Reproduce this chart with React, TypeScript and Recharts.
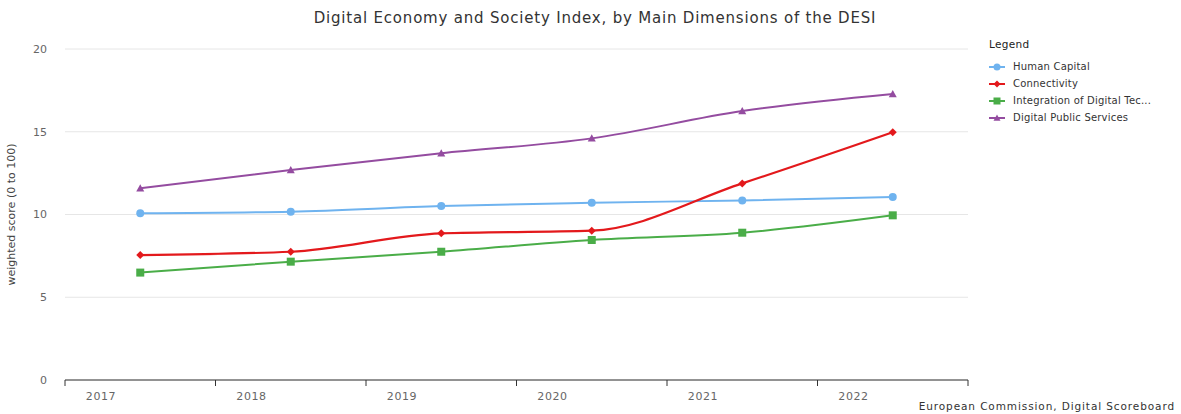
import React from "react";
import {
  LineChart,
  Line,
  XAxis,
  YAxis,
  CartesianGrid,
  Legend,
  Label,
} from "recharts";

const years = ["2017", "2018", "2019", "2020", "2021", "2022"];
const humanCapital = [10.07, 10.17, 10.51, 10.71, 10.85, 11.06];
const connectivity = [7.55, 7.75, 8.86, 9.02, 11.88, 14.97];
const integration = [6.49, 7.15, 7.75, 8.46, 8.9, 9.95];
const publicServices = [11.58, 12.69, 13.7, 14.6, 16.25, 17.28];
const yTicks = [0, 5, 10, 15, 20];

const FONT = "'DejaVu Sans', sans-serif";

type Shape = "circle" | "diamond" | "square" | "triangle";

const series: { key: string; name: string; color: string; shape: Shape; width: number }[] = [
  { key: "human", name: "Human Capital", color: "#6fb3ef", shape: "circle", width: 2 },
  { key: "conn", name: "Connectivity", color: "#e3191c", shape: "diamond", width: 2.2 },
  { key: "integ", name: "Integration of Digital Tec...", color: "#4aad48", shape: "square", width: 2 },
  { key: "dps", name: "Digital Public Services", color: "#944ca0", shape: "triangle", width: 2 },
];

const data = years.map((year, i) => ({
  x: i + 0.5,
  year,
  human: humanCapital[i],
  conn: connectivity[i],
  integ: integration[i],
  dps: publicServices[i],
}));

function marker(shape: Shape, cx: number, cy: number, color: string, r = 4) {
  switch (shape) {
    case "circle":
      return <circle cx={cx} cy={cy} r={r} fill={color} />;
    case "diamond":
      return (
        <path
          d={`M${cx},${cy - r} L${cx + r},${cy} L${cx},${cy + r} L${cx - r},${cy} Z`}
          fill={color}
        />
      );
    case "square":
      return <rect x={cx - r} y={cy - r} width={2 * r} height={2 * r} fill={color} />;
    default:
      return (
        <path
          d={`M${cx},${cy - r} L${cx + r},${cy + r * 0.8} L${cx - r},${cy + r * 0.8} Z`}
          fill={color}
        />
      );
  }
}

const XTick = (props: any) => {
  const { x, y, payload, index } = props;
  if (index >= years.length) return null;
  return (
    <text
      x={x + 36}
      y={y + 12}
      textAnchor="middle"
      fontSize={11}
      fill="#666"
      fontFamily={FONT}
      letterSpacing={0.6}
    >
      {years[payload.value]}
    </text>
  );
};

const LegendBox = () => (
  <div style={{ fontFamily: FONT, fontSize: 10, color: "#333" }}>
    <div style={{ fontSize: 10.5, marginBottom: 8, color: "#222", letterSpacing: 0.3 }}>Legend</div>
    {series.map((s) => (
      <div key={s.key} style={{ display: "flex", alignItems: "center", height: 17 }}>
        <svg width={24} height={10}>
          <line x1={0} y1={5} x2={16} y2={5} stroke={s.color} strokeWidth={2} />
          {marker(s.shape, 8, 5, s.color, 3.5)}
        </svg>
        <span style={{ letterSpacing: 0.2 }}>{s.name}</span>
      </div>
    ))}
  </div>
);

export default function App() {
  return (
    <div style={{ position: "absolute", left: 0, top: 0, width: 1181, height: 414, background: "#fff" }}>
      <div
        style={{
          position: "absolute",
          top: 9,
          left: 0,
          width: 1190,
          textAlign: "center",
          fontFamily: FONT,
          fontSize: 15,
          letterSpacing: 0.8,
          color: "#333",
        }}
      >
        Digital Economy and Society Index, by Main Dimensions of the DESI
      </div>
      <LineChart
        width={1181}
        height={414}
        data={data}
        margin={{ top: 49, right: 213, bottom: 4, left: 5 }}
      >
        <CartesianGrid horizontal vertical={false} stroke="#e6e6e6" />
        <XAxis
          type="number"
          dataKey="x"
          domain={[0, 6]}
          ticks={[0, 1, 2, 3, 4, 5, 6]}
          interval={0}
          height={30}
          axisLine={{ stroke: "#333", strokeWidth: 1 }}
          tickLine={{ stroke: "#333" }}
          tickSize={6}
          tick={<XTick />}
        />
        <YAxis
          domain={[0, 20]}
          ticks={yTicks}
          width={60}
          axisLine={false}
          tickLine={false}
          tickMargin={12}
          tick={{ fontSize: 11, fill: "#666", fontFamily: FONT }}
        >
          <Label
            value="weighted score (0 to 100)"
            angle={-90}
            position="insideLeft"
            offset={6}
            style={{ fontSize: 11, fill: "#444", fontFamily: FONT, textAnchor: "middle" }}
          />
        </YAxis>
        <Legend
          layout="horizontal"
          align="center"
          verticalAlign="middle"
          wrapperStyle={{ left: 989, top: 38, width: 190 }}
          content={() => <LegendBox />}
        />
        {series.map((s) => (
          <Line
            key={s.key}
            type="monotone"
            dataKey={s.key}
            name={s.name}
            stroke={s.color}
            strokeWidth={s.width}
            isAnimationActive={false}
            dot={(p: any) => <g key={`${s.key}-${p.index}`}>{marker(s.shape, p.cx, p.cy, s.color)}</g>}
            activeDot={false}
          />
        ))}
      </LineChart>
      <div
        style={{
          position: "absolute",
          right: 6,
          top: 400,
          fontFamily: FONT,
          fontSize: 10.5,
          color: "#333",
          letterSpacing: 0.9,
        }}
      >
        European Commission, Digital Scoreboard
      </div>
    </div>
  );
}
